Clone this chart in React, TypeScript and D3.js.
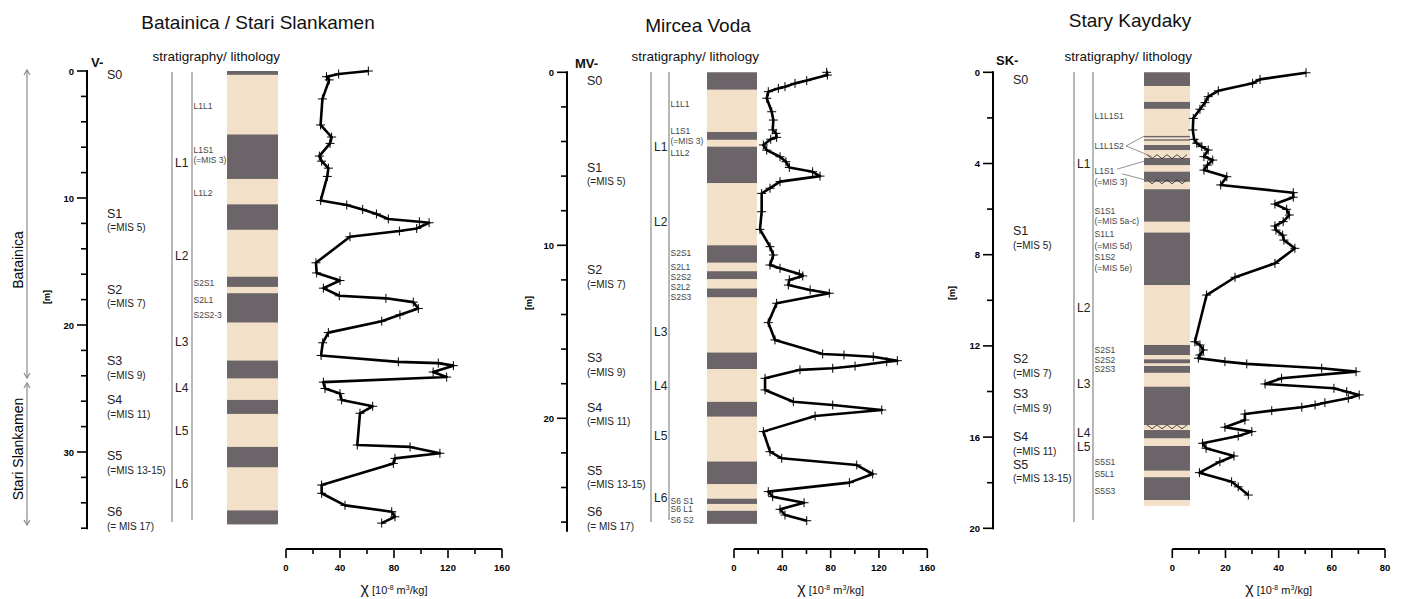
import React from 'react'
import * as d3 from 'd3'

const FONT = 'Liberation Sans, Arial, Helvetica, sans-serif'
const DARK = '#6b6468'
const LIGHT = '#f2e1c8'

// Batainica / Stari Slankamen
const batDepth = [0, 0.24, 0.45, 0.7, 2.2, 4.25, 5.2, 5.7, 6.7, 7.1, 7.65, 8.3, 10.2, 10.55, 10.9, 11.26, 11.65, 11.87, 11.95, 12.4, 12.6, 13.05, 15.1, 15.9, 16.5, 17.1, 17.7, 17.9, 18.2, 18.7, 19.2, 19.7, 20.6, 21.4, 22.4, 22.9, 23.0, 23.2, 23.7, 24.1, 24.5, 25.0, 25.4, 25.9, 26.4, 26.95, 29.45, 29.6, 30.1, 30.5, 30.9, 32.6, 33.25, 34.2, 34.7, 35.1, 35.6]
const batChi = [61, 39, 30, 32, 27, 25.6, 33.8, 32.6, 24.7, 26.4, 31.4, 30.6, 25.7, 45, 56.8, 67, 75.8, 98.8, 106, 96.8, 84, 47.4, 22.2, 22.7, 40, 27.7, 39.5, 74, 94.3, 98, 84.4, 70.9, 31.4, 27.2, 26, 83.2, 112.8, 124, 109, 119, 27.7, 28.9, 40, 41.2, 64.2, 54.8, 52.8, 91.9, 114, 80.7, 79.5, 26.4, 26.4, 43.7, 78.3, 80.7, 70.9]
const batDark = [[0, 0.3], [5.0, 8.5], [10.5, 12.5], [16.2, 17.0], [17.5, 19.8], [22.8, 24.2], [25.9, 27.0], [29.6, 31.2], [34.6, 35.7]]
const batBase = 35.7
const batUnits = [['S0', '', 0.3], ['S1', '(=MIS 5)', 11.2], ['S2', '(=MIS 7)', 17.2], ['S3', '(=MIS 9)', 22.8], ['S4', '(=MIS 11)', 25.9], ['S5', '(=MIS 13-15)', 30.3], ['S6', '(= MIS 17)', 34.7]]
const batLoess = [['L1', 7.2], ['L2', 14.5], ['L3', 21.3], ['L4', 24.9], ['L5', 28.3], ['L6', 32.5]]
const batSubs = [['L1L1', 2.75], ['L1S1', 6.2], ['(=MIS 3)', 7.0], ['L1L2', 9.6], ['S2S1', 16.7], ['S2L1', 18.0], ['S2S2-3', 19.2]]

// Mircea Voda
const mvDepth = [0, 0.16, 0.48, 0.64, 0.83, 0.93, 1.12, 1.5, 2.28, 2.76, 3.33, 3.53, 3.76, 3.87, 4.2, 4.5, 4.88, 5.17, 5.5, 5.75, 6.0, 6.32, 6.7, 7.0, 8.06, 9.08, 10.08, 10.56, 11.14, 11.33, 11.66, 11.77, 12.0, 12.3, 12.58, 12.77, 13.35, 14.47, 15.47, 16.28, 16.34, 16.44, 16.67, 16.73, 16.98, 17.11, 17.2, 17.69, 18.36, 19.04, 19.23, 19.52, 19.87, 20.77, 21.93, 22.31, 22.7, 23.22, 23.72, 24.24, 24.53, 24.88, 25.26, 25.59, 25.92]
const mvChi = [76.7, 77.3, 60.2, 50.5, 42.2, 36.7, 28.4, 27.1, 31.2, 32.6, 32.0, 34.8, 35.3, 30.4, 24.3, 27.1, 38.1, 43, 45.8, 65.1, 71.2, 38.1, 29.8, 22.9, 22.9, 21.5, 29.8, 32.6, 29.8, 38.1, 54.1, 56.9, 45.8, 45, 63, 78.9, 35.3, 28.4, 33.9, 73.4, 91, 115.3, 135.2, 126.4, 100.2, 81.7, 54.6, 25.7, 25.7, 49.1, 81.7, 122.3, 67.1, 24.3, 29.8, 39.5, 101.6, 114.8, 95.5, 28.4, 32, 58, 38.1, 42.2, 60.2]
const mvDark = [[0, 1.0], [3.45, 3.9], [4.3, 6.4], [10.0, 11.0], [11.5, 11.95], [12.5, 13.0], [16.2, 17.15], [19.05, 19.9], [22.5, 23.8], [24.65, 24.95], [25.35, 26.1]]
const mvBase = 26.1
const mvUnits = [['S0', '', 0.45], ['S1', '(=MIS 5)', 5.5], ['S2', '(=MIS 7)', 11.4], ['S3', '(=MIS 9)', 16.5], ['S4', '(=MIS 11)', 19.35], ['S5', '(=MIS 13-15)', 23.0], ['S6', '(= MIS 17)', 25.4]]
const mvLoess = [['L1', 4.3], ['L2', 8.65], ['L3', 15.0], ['L4', 18.1], ['L5', 21.0], ['L6', 24.55]]
const mvSubs = [['L1L1', 1.85], ['L1S1', 3.4], ['(=MIS 3)', 3.95], ['L1L2', 4.65], ['S2S1', 10.45], ['S2L1', 11.25], ['S2S2', 11.83], ['S2L2', 12.4], ['S2S3', 12.99], ['S6 S1', 24.8], ['S6 L1', 25.24], ['S6 S2', 25.88]]

// Stary Kaydaky
const skDepth = [0.02, 0.31, 0.48, 0.81, 1.07, 1.33, 1.62, 2.02, 2.53, 2.94, 3.11, 3.26, 3.41, 3.7, 3.85, 4.07, 4.29, 4.58, 4.94, 5.28, 5.48, 5.78, 6.01, 6.26, 6.55, 6.74, 6.92, 7.14, 7.36, 7.72, 8.38, 8.99, 9.77, 11.82, 11.96, 12.18, 12.4, 12.54, 12.69, 12.79, 12.98, 13.13, 13.42, 13.67, 13.86, 14.01, 14.15, 14.3, 14.49, 14.59, 14.69, 14.84, 14.99, 15.25, 15.57, 15.76, 15.95, 16.27, 16.49, 16.83, 17.08, 17.56, 17.96, 18.18, 18.54]
const skChi = [50.3, 33, 30.2, 17.3, 13.5, 12.3, 10.4, 7.9, 7.7, 8.2, 9.2, 11.1, 13.5, 11.9, 15.2, 13.2, 11.9, 20.5, 18.2, 45.5, 45.5, 38.6, 43, 44, 41.7, 38.6, 39, 41.5, 42, 46.1, 38.6, 23.6, 12.9, 8.5, 10.4, 11.7, 10.4, 9.8, 19.8, 28, 56.2, 69.1, 41.1, 34.9, 60.8, 65.6, 70.3, 66.2, 57.4, 53.7, 48.7, 37.4, 27.3, 27.3, 19.8, 29.9, 24.8, 11.4, 12.7, 23.2, 17.9, 10.2, 22.3, 24.8, 28.6]
const skDark = [[0, 0.6], [1.3, 1.6], [2.79, 2.85], [2.94, 3.0], [3.19, 3.41], [3.76, 4.07], [4.36, 4.8], [5.13, 6.55], [7.03, 9.33], [11.96, 12.4], [12.59, 12.76], [12.88, 13.18], [13.79, 15.47], [15.69, 16.05], [16.39, 17.47], [17.76, 18.76]]
const skBase = 19.02
const skWavy = [3.7, 4.8, 15.55]
const skUnits = [['S0', '', 0.3], ['S1', '(=MIS 5)', 6.96], ['S2', '(=MIS 7)', 12.57], ['S3', '(=MIS 9)', 14.1], ['S4', '(=MIS 11)', 15.99], ['S5', '(=MIS 13-15)', 17.18]]
const skLoess = [['L1', 4.0], ['L2', 10.3], ['L3', 13.67], ['L4', 15.78], ['L5', 16.43]]
const skSubs = [['L1L1S1', 1.92], ['L1L1S2', 3.23], ['L1S1', 4.33], ['(=MIS 3)', 4.81], ['S1S1', 6.08], ['(=MIS 5a-c)', 6.52], ['S1L1', 7.09], ['(=MIS 5d)', 7.62], ['S1S2', 8.1], ['(=MIS 5e)', 8.58], ['S2S1', 12.18], ['S2S2', 12.61], ['S2S3', 13.0], ['S5S1', 17.09], ['S5L1', 17.62], ['S5S3', 18.36]]

const panels = [
  {
    title: 'Batainica / Stari Slankamen', titleX: 258, titleY: 29, code: 'V-', codeX: 91, codeY: 62,
    axisX: 87, y0: 71, refDepth: 10, yRef: 198, axisEnd: 36, tickStep: 2, labelStep: 10,
    xMax: 160, xRange: [286, 502], xMajor: 40, xMinor: 20, mLabel: [50, 297],
    line1: 172, line2: 192, linesBottom: 522, colX: 227, colW: 51,
    depth: batDepth, chi: batChi, dark: batDark, base: batBase, units: batUnits, loess: batLoess, subs: batSubs, wavy: [],
  },
  {
    title: 'Mircea Voda', titleX: 698, titleY: 32, code: 'MV-', codeX: 575, codeY: 63,
    axisX: 567, y0: 72.3, refDepth: 10, yRef: 245.3, axisEnd: 26.5, tickStep: 2, labelStep: 10,
    xMax: 160, xRange: [734, 927.3], xMajor: 40, xMinor: 20, mLabel: [532, 303],
    line1: 651, line2: 669, linesBottom: 522, colX: 707, colW: 50,
    depth: mvDepth, chi: mvChi, dark: mvDark, base: mvBase, units: mvUnits, loess: mvLoess, subs: mvSubs, wavy: [],
  },
  {
    title: 'Stary Kaydaky', titleX: 1130, titleY: 27, code: 'SK-', codeX: 996, codeY: 60,
    axisX: 993, y0: 72.3, refDepth: 20, yRef: 528.3, axisEnd: 20, tickStep: 2, labelStep: 4,
    xMax: 80, xRange: [1172.3, 1385], xMajor: 20, xMinor: 10, mLabel: [955, 293],
    line1: 1074, line2: 1093, linesBottom: 522, colX: 1144, colW: 46,
    depth: skDepth, chi: skChi, dark: skDark, base: skBase, units: skUnits, loess: skLoess, subs: skSubs, wavy: skWavy,
  },
]

function Panel({ p }: { p: any }) {
  const y = d3.scaleLinear().domain([0, p.refDepth]).range([p.y0, p.yRef])
  const x = d3.scaleLinear().domain([0, p.xMax]).range(p.xRange)
  const pts: [number, number][] = p.depth.map((d: number, i: number) => [x(p.chi[i]), y(d)])
  const path = d3.line()(pts) || ''
  const ticks = d3.range(0, p.axisEnd + 0.001, p.tickStep)
  const xTicks = d3.range(0, p.xMax + 0.001, p.xMinor)
  const axisY = 549
  const midX = (p.xRange[0] + p.xRange[1]) / 2

  // zigzag erosion lines inside column
  const zig = (d: number) => {
    const n = 8
    const x0 = p.colX + 3
    const w = p.colW - 6
    const zp: [number, number][] = d3.range(n + 1).map((i) => [x0 + (w * i) / n, y(d) + (i % 2 === 0 ? -2 : 2)])
    return d3.line()(zp) || ''
  }

  return (
    <g fontFamily={FONT}>
      <text x={p.titleX} y={p.titleY} textAnchor="middle" fontSize={19} fill="#111">{p.title}</text>
      <text x={p.colX + p.colW + 2} y={61} textAnchor="end" fontSize={13.5} fill="#111">stratigraphy/ lithology</text>
      <text x={p.codeX} y={p.codeY + 5} fontSize={13} fontWeight="bold" fill="#111">{p.code}</text>

      {/* depth axis */}
      <line x1={p.axisX} x2={p.axisX} y1={y(0) - 1} y2={y(p.axisEnd) + 1} stroke="#000" strokeWidth={2} />
      {ticks.map((t: number) => {
        const major = Math.abs(t % p.labelStep) < 1e-6
        return (
          <g key={t}>
            <line x1={p.axisX - (major ? 10 : 6)} x2={p.axisX} y1={y(t)} y2={y(t)} stroke="#000" strokeWidth={1.6} />
            {major && <text x={p.axisX - 13} y={y(t) + 3.5} textAnchor="end" fontSize={9.5} fontWeight="bold">{t}</text>}
          </g>
        )
      })}
      <text transform={`translate(${p.mLabel[0]},${p.mLabel[1]}) rotate(-90)`} textAnchor="middle" fontSize={9} fontWeight="bold">[m]</text>

      {/* unit labels */}
      {p.units.map((u: any) => (
        <g key={u[0]}>
          <text x={p.axisX + 20} y={y(u[2]) + 4.5} fontSize={12.5} fill="#222">{u[0]}</text>
          {u[1] && <text x={p.axisX + 20} y={y(u[2]) + 18} fontSize={10} fill="#222">{u[1]}</text>}
        </g>
      ))}
      <line x1={p.line1} x2={p.line1} y1={72} y2={p.linesBottom} stroke="#888" strokeWidth={1.2} />
      <line x1={p.line2} x2={p.line2} y1={72} y2={p.linesBottom - 2} stroke="#888" strokeWidth={1.2} />
      {p.loess.map((l: any) => (
        <text key={l[0]} x={p.line1 + 3} y={y(l[1]) + 4.5} fontSize={12} fill="#222">{l[0]}</text>
      ))}
      {p.subs.map((s: any, i: number) => (
        <text key={i} x={p.line2 + 1.5} y={y(s[1]) + 3} fontSize={8.5} fill="#444">{s[0]}</text>
      ))}

      {/* lithology column */}
      <rect x={p.colX} y={y(0)} width={p.colW} height={y(p.base) - y(0)} fill={LIGHT} />
      {p.dark.map((b: number[], i: number) => (
        <rect key={i} x={p.colX} y={y(b[0])} width={p.colW} height={y(b[1]) - y(b[0])} fill={DARK} />
      ))}
      {p.wavy.map((d: number, i: number) => (
        <path key={i} d={zig(d)} fill="none" stroke="#333" strokeWidth={0.9} />
      ))}

      {/* susceptibility curve */}
      <path d={path} fill="none" stroke="#000" strokeWidth={2.6} strokeLinejoin="round" />
      {pts.map((q, i) => (
        <path key={i} d={`M${q[0] - 4.5},${q[1]}H${q[0] + 4.5}M${q[0]},${q[1] - 4.5}V${q[1] + 4.5}`} stroke="#000" strokeWidth={1} />
      ))}

      {/* chi axis */}
      <line x1={x(0)} x2={x(p.xMax)} y1={axisY} y2={axisY} stroke="#000" strokeWidth={1.8} />
      {xTicks.map((t: number) => {
        const major = Math.abs(t % p.xMajor) < 1e-6
        return (
          <g key={t}>
            <line x1={x(t)} x2={x(t)} y1={axisY} y2={axisY + (major ? 9 : 5)} stroke="#000" strokeWidth={1.6} />
            {major && <text x={x(t)} y={axisY + 22} textAnchor="middle" fontSize={9.5} fontWeight="bold">{t}</text>}
          </g>
        )
      })}
      <text x={midX} y={594} textAnchor="middle" fontSize={11} fill="#111">
        <tspan fontSize={16}>χ</tspan> [10<tspan fontSize={7} dy={-4}>-8</tspan><tspan dy={4}> m</tspan>
        <tspan fontSize={7} dy={-4}>3</tspan><tspan dy={4}>/kg]</tspan>
      </text>
    </g>
  )
}

export default function App() {
  const sk = panels[2]
  const ySk = d3.scaleLinear().domain([0, sk.refDepth]).range([sk.y0, sk.yRef])
  return (
    <svg width={1401} height={599} style={{ position: 'absolute', left: 0, top: 0, background: '#fff' }}>
      {panels.map((p) => <Panel key={p.title} p={p} />)}

      {/* site range arrows */}
      <g stroke="#8a8a8a" strokeWidth={1.2} fill="none">
        <line x1={27} x2={27} y1={70} y2={378} />
        <path d="M24,75L27,70L30,75M24,373L27,378L30,373" />
        <line x1={27} x2={27} y1={383} y2={525} />
        <path d="M24,388L27,383L30,388M24,520L27,525L30,520" />
      </g>
      <text transform="translate(23,260) rotate(-90)" textAnchor="middle" fontSize={14} fontFamily={FONT}>Batainica</text>
      <text transform="translate(23,449) rotate(-90)" textAnchor="middle" fontSize={14} fontFamily={FONT}>Stari Slankamen</text>

      {/* Stary Kaydaky leader lines */}
      <g stroke="#777" strokeWidth={0.8} fill="none">
        <path d={`M1126,${ySk(3.23)}L${sk.colX},${ySk(2.8)}M1126,${ySk(3.23)}L${sk.colX + 8},${ySk(3.7)}`} />
        <path d={`M1117,${ySk(4.25)}L${sk.colX},${ySk(3.9)}M1122,${ySk(4.45)}L${sk.colX + 8},${ySk(4.8)}`} />
      </g>
    </svg>
  )
}
